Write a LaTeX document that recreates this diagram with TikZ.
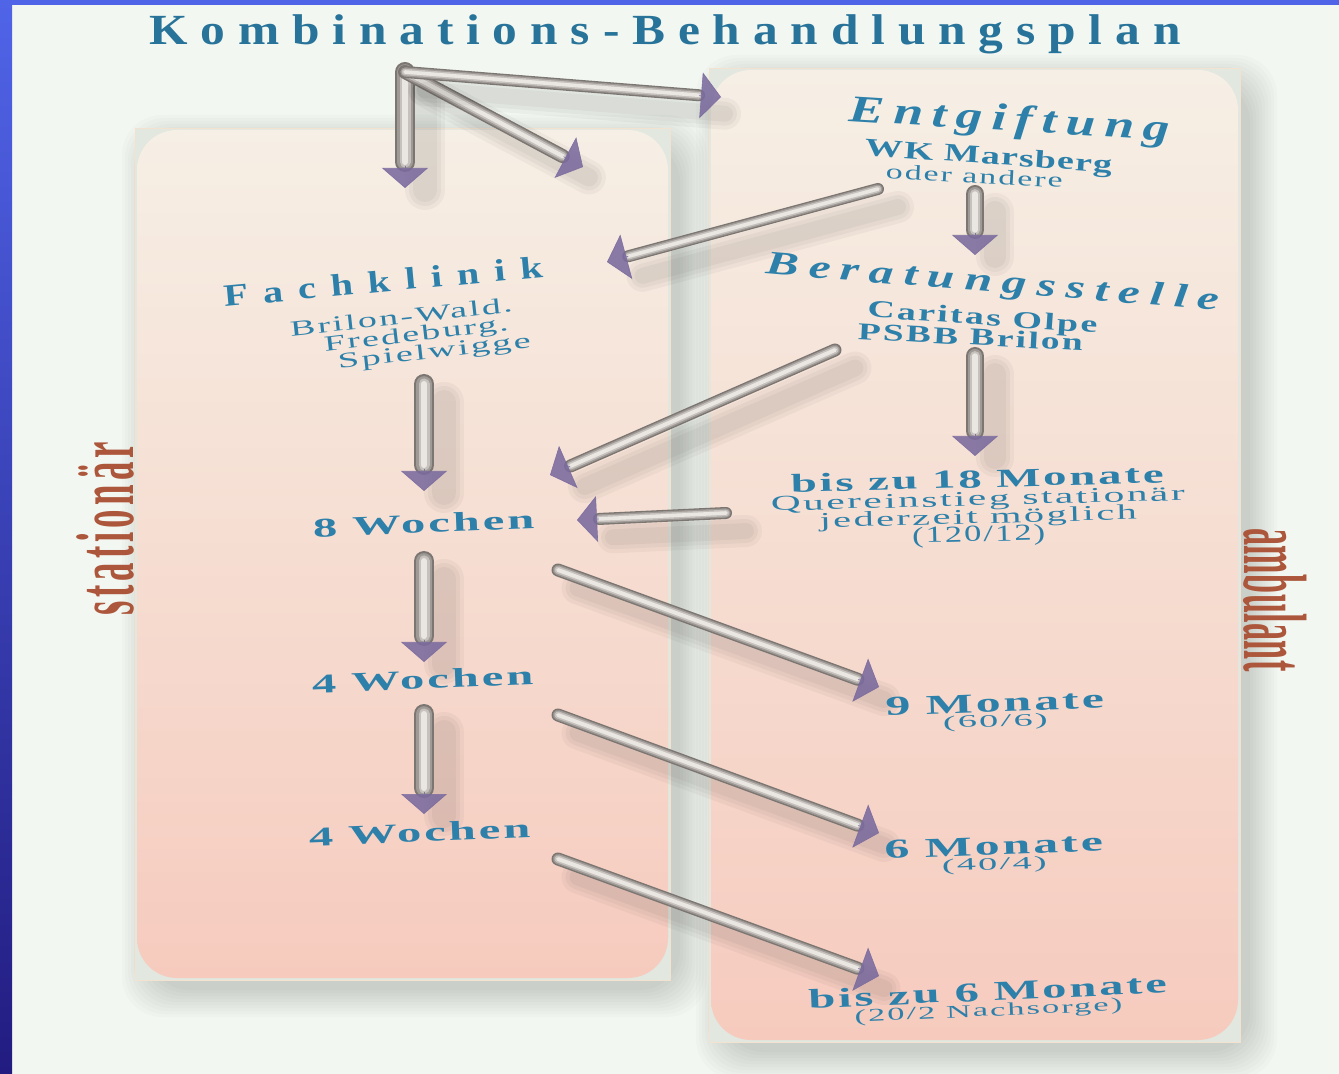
\documentclass[tikz,border=0pt]{standalone}
\usepackage{fontspec}
\setmainfont{Liberation Serif}
\usepackage{graphicx}
\usetikzlibrary{arrows.meta,calc}
\setlength{\lineskiplimit}{-30pt}

\definecolor{bgcol}{RGB}{243,247,241}
\definecolor{edgetop}{RGB}{80,100,232}
\definecolor{edgebot}{RGB}{34,28,128}
\definecolor{txtblue}{RGB}{44,128,170}
\definecolor{sidecol}{RGB}{172,86,60}
\definecolor{panetop}{RGB}{246,239,229}
\definecolor{panemid}{RGB}{246,223,211}
\definecolor{panebot}{RGB}{246,203,190}
\definecolor{cornercol}{RGB}{226,231,224}
\definecolor{framecol}{RGB}{243,226,208}
\definecolor{headcol}{RGB}{122,106,158}
\definecolor{tubeA}{RGB}{124,118,114}
\definecolor{tubeB}{RGB}{160,154,150}
\definecolor{tubeC}{RGB}{198,193,189}
\definecolor{tubeD}{RGB}{234,231,227}

\newcommand\lsp[1]{\addfontfeature{LetterSpace=#1}}
\newcommand\fs[1]{\fontsize{#1}{#1}\selectfont}
% stretched text: [shape]{xscale}{size}{spacing}{text}
\newcommand\wa[5][]{\scalebox{#2}[1]{\fs{#3}#1\lsp{#4}#5}}

% gray tube with purple tip
\newcommand\tube[3][7pt]{%
  \foreach \w in {2pt,6pt,10pt}
    \draw[tubeshade,line width=#1+\w] (#2) -- (#3);
  \draw[tubebody,draw=tubeA,line width=#1,shorten >=8pt+0.5*#1] (#2) -- (#3);
  \draw[tubebody,draw=tubeB,line width=0.78*#1,shorten >=8pt+0.5*#1] (#2) -- (#3);
  \draw[tubebody,draw=tubeC,line width=0.55*#1,shorten >=8pt+0.5*#1] (#2) -- (#3);
  \draw[tubebody,draw=tubeD,line width=0.3*#1,shorten >=8pt+0.5*#1] (#2) -- (#3);
  \draw[tubehead] ($(#3)!11pt!(#2)$) -- (#3);
}

\begin{document}
\begin{tikzpicture}[x=0.5pt,y=-0.5pt,
    lbl/.style={text=txtblue, inner sep=0pt, anchor=base},
    grp/.style={text=txtblue, inner sep=0pt, align=center},
    side/.style={text=sidecol, inner sep=0pt, anchor=base},
    tubeshade/.style={line cap=round, draw=black, opacity=0.035, shorten >=8pt,
      transform canvas={xshift=10pt,yshift=-9pt}},
    tubebody/.style={line cap=round},
    tubehead/.style={draw=headcol, fill=headcol, line width=0.3pt, opacity=0.88,
      -{Triangle[width=23pt,length=10pt]}}]
  \useasboundingbox (0,0) rectangle (1339,1074);

  % background and blue edges
  \fill[bgcol] (0,0) rectangle (1339,1074);
  \shade[top color=edgetop, bottom color=edgebot] (0,0) rectangle (12,1074);
  \fill[edgetop] (0,0) rectangle (1339,5);

  % panel shadows
  \foreach \k in {0,...,9} {
    \fill[black, opacity=0.014, rounded corners=20pt]
      (137+12-\k*3,130+12-\k*3) rectangle (668+12+\k*3,978+12+\k*3);
    \fill[black, opacity=0.014, rounded corners=20pt]
      (711+12-\k*3,70+12-\k*3) rectangle (1238+12+\k*3,1040+12+\k*3);
  }

  % panels
  \draw[framecol, fill=cornercol] (135,128) rectangle (670,980);
  \shade[top color=panetop, middle color=panemid, bottom color=panebot,
    rounded corners=20pt] (137,130) rectangle (668,978);
  \draw[framecol, fill=cornercol] (709,68) rectangle (1240,1042);
  \shade[top color=panetop, middle color=panemid, bottom color=panebot,
    rounded corners=20pt] (711,70) rectangle (1238,1040);

  % tube ends
  \coordinate (jn) at (405,72);
  \coordinate (stTop) at (405,188);
  \coordinate (stDiag) at (583,167);
  \coordinate (entIn) at (721,97);
  \coordinate (entL) at (878,189);
  \coordinate (fachR) at (607,262);
  \coordinate (entB) at (975,194);
  \coordinate (berT) at (975,255);
  \coordinate (berB) at (975,356);
  \coordinate (q18T) at (975,456);
  \coordinate (berL) at (835,350);
  \coordinate (w8R) at (550,475);
  \coordinate (fachB) at (424,384);
  \coordinate (w8T) at (424,491);
  \coordinate (q18L) at (726,513);
  \coordinate (w8E) at (577,520);
  \coordinate (w8B) at (424,561);
  \coordinate (w4aT) at (424,662);
  \coordinate (w8D) at (558,570);
  \coordinate (m9T) at (879,687);
  \coordinate (w4aB) at (424,714);
  \coordinate (w4bT) at (424,814);
  \coordinate (w4aD) at (558,715);
  \coordinate (m6T) at (879,833);
  \coordinate (w4bD) at (558,859);
  \coordinate (m6bT) at (879,976);

  % arrows
  \tube[10pt]{jn}{stTop}
  \tube[7pt]{jn}{stDiag}
  \tube[6pt]{jn}{entIn}
  \tube[6pt]{entL}{fachR}
  \tube[9pt]{entB}{berT}
  \tube[9pt]{berB}{q18T}
  \tube[6.5pt]{berL}{w8R}
  \tube[10pt]{fachB}{w8T}
  \tube[6pt]{q18L}{w8E}
  \tube[10pt]{w8B}{w4aT}
  \tube[6.5pt]{w8D}{m9T}
  \tube[10pt]{w4aB}{w4bT}
  \tube[6.5pt]{w4aD}{m6T}
  \tube[6.5pt]{w4bD}{m6bT}

  % title
  \node[lbl, text=txtblue!90!black] (title) at (665,45)
    {\wa[\bfseries]{1.15}{21.5}{26}{Kombinations-Behandlungsplan}};

  % ambulant column
  \node[lbl, rotate=-3.5] (entg) at (1009,131) {\wa[\bfseries\itshape]{1.4}{19}{17}{Entgiftung}};
  \node[lbl, rotate=-4] (wk) at (988,164) {\wa[\bfseries]{1.52}{12.5}{3}{WK Marsberg}};
  \node[lbl, rotate=-3] (oder) at (974,183) {\wa{1.61}{10.5}{6}{oder andere}};
  \node[lbl, rotate=-4.6] (berat) at (992,292) {\wa[\bfseries\itshape]{1.5}{16.5}{20}{Beratungsstelle}};
  \node[lbl, rotate=-4] (carit) at (982,325) {\wa[\bfseries]{1.58}{12}{6}{Caritas Olpe}};
  \node[lbl, rotate=-3] (psbb) at (970,345) {\wa[\bfseries]{1.56}{12}{6}{PSBB Brilon}};
  \node[grp, rotate=1.5, font=\fontsize{11}{9}\selectfont] (q18) at (978,508)
    {\wa[\bfseries]{1.8}{13}{6}{bis zu 18 Monate}\\
     \wa{1.97}{10.5}{6}{Quereinstieg stationär}\\
     \wa{1.92}{10.5}{6}{jederzeit möglich}\\
     \wa{1.5}{11.5}{6}{(120/12)}};
  \node[grp, rotate=2, font=\fontsize{10}{7.5}\selectfont] (m9) at (995,712)
    {\wa[\bfseries]{1.83}{13.6}{6}{9 Monate}\\\wa{2.2}{8.7}{6}{(60/6)}};
  \node[grp, rotate=2, font=\fontsize{10}{7.5}\selectfont] (m6) at (994,855)
    {\wa[\bfseries]{1.83}{13.6}{6}{6 Monate}\\\wa{2.2}{8.7}{6}{(40/4)}};
  \node[grp, rotate=2.5, font=\fontsize{10}{7.8}\selectfont] (m6b) at (988,1001)
    {\wa[\bfseries]{1.78}{13.6}{6}{bis zu 6 Monate}\\\wa{1.91}{9}{6}{(20/2 Nachsorge)}};

  % stationaer column
  \node[lbl, rotate=5.3] (fach) at (384,292) {\wa[\bfseries]{1.3}{15.5}{37}{Fachklinik}};
  \node[lbl, rotate=6.2] (brilon) at (402,324) {\wa{1.76}{10.8}{6}{Brilon-Wald.}};
  \node[lbl, rotate=6.6] (fred) at (417,341) {\wa{1.76}{10.8}{6}{Fredeburg.}};
  \node[lbl, rotate=6.4] (spiel) at (435,358) {\wa{1.78}{10.8}{6}{Spielwigge}};
  \node[lbl, rotate=2.2] (w8) at (424,533) {\wa[\bfseries]{1.8}{13.5}{6}{8 Wochen}};
  \node[lbl, rotate=2.2] (w4a) at (423,689) {\wa[\bfseries]{1.8}{13.5}{6}{4 Wochen}};
  \node[lbl, rotate=2.2] (w4b) at (420,842) {\wa[\bfseries]{1.8}{13.5}{6}{4 Wochen}};

  % side labels
  \node[side, rotate=90] (stat) at (133,529)
    {\wa[\bfseries]{0.45}{41}{11}{stationär}};
  \node[side, rotate=-90] (amb) at (1244,600)
    {\wa[\bfseries]{0.38}{45}{1}{ambulant}};
\end{tikzpicture}
\end{document}
